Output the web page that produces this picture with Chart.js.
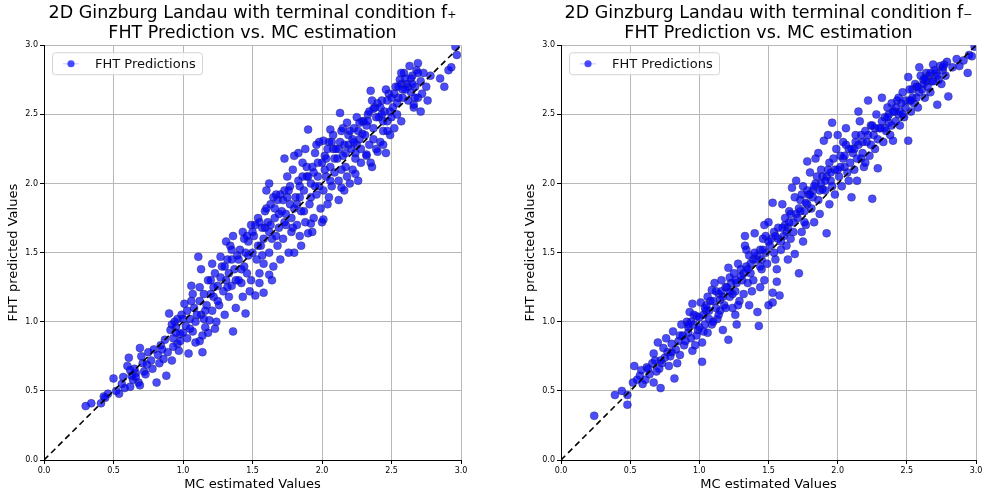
<!DOCTYPE html>
<html>
<head>
<meta charset="utf-8">
<script src="https://cdn.jsdelivr.net/npm/chart.js@4.4.1/dist/chart.umd.min.js"></script>
<style>
  html, body { margin: 0; padding: 0; background: #fff; }
  body { width: 985px; height: 495px; position: relative; overflow: hidden; }
  .panel { position: absolute; top: 0; height: 495px; }
</style>
</head>
<body>
<div class="panel" style="left:0;width:470px"><canvas id="plusChart"></canvas></div>
<div class="panel" style="left:517px;width:468px"><canvas id="minusChart"></canvas></div>
<script>
// ticks shared by both axes
const tickValues = [0.0, 0.5, 1.0, 1.5, 2.0, 2.5, 3.0];
const diagonal = [0, 3];

// terminal condition f+ : MC estimate (x) vs FHT prediction (y)
const mcPlus = [
  0.30,0.34,0.41,0.43,0.46,0.44,
  0.50,0.54,0.52,0.56,0.58,0.57,
  0.61,0.60,0.62,0.64,0.66,0.68,0.69,0.65,0.63,
  0.69,0.72,0.74,0.75,0.77,0.78,0.71,0.79,
  0.81,0.82,0.84,0.86,0.88,0.87,0.83,0.89,
  0.92,0.90,0.91,0.93,0.95,0.96,0.98,0.94,0.99,0.97,0.92,0.96,0.98,0.93,
  1.01,1.04,1.06,1.02,1.03,1.05,1.07,1.08,1.09,1.06,1.00,1.03,1.05,1.07,1.09,
  1.11,1.14,1.12,1.13,1.15,1.16,1.17,1.18,1.19,1.12,1.14,1.12,1.16,1.18,1.13,
  1.27,1.21,1.22,1.23,1.24,1.25,1.26,1.28,1.29,1.20,1.23,1.22,1.25,1.27,1.21,
  1.36,1.31,1.32,1.33,1.34,1.35,1.37,1.38,1.39,1.30,1.36,1.33,1.32,1.35,1.38,1.31,
  1.45,1.41,1.42,1.43,1.44,1.46,1.47,1.48,1.49,1.40,1.45,1.43,1.42,1.44,1.47,1.49,
  1.52,1.51,1.53,1.54,1.55,1.56,1.57,1.58,1.59,1.50,1.55,1.58,1.58,1.52,1.54,1.57,1.59,
  1.61,1.62,1.63,1.64,1.65,1.66,1.67,1.68,1.69,1.60,1.64,1.66,1.62,1.62,1.62,1.65,1.67,1.69,
  1.71,1.72,1.73,1.74,1.75,1.76,1.77,1.78,1.79,1.70,1.75,1.78,1.73,1.72,1.74,1.77,1.79,
  1.81,1.82,1.83,1.84,1.85,1.86,1.87,1.88,1.89,1.80,1.85,1.88,1.80,1.83,1.82,1.84,1.87,1.89,
  1.90,1.91,1.92,1.93,1.94,1.95,1.96,1.97,1.98,1.99,1.93,1.97,1.90,1.92,1.92,1.94,1.96,1.98,
  2.01,2.02,2.03,2.04,2.05,2.06,2.07,2.08,2.09,2.00,2.05,2.08,2.01,2.01,2.06,2.02,2.04,2.06,2.09,
  2.11,2.12,2.13,2.14,2.15,2.16,2.17,2.18,2.19,2.12,2.16,2.13,2.14,2.18,2.12,2.14,2.17,2.19,
  2.21,2.22,2.23,2.24,2.25,2.26,2.27,2.28,2.29,2.20,2.25,2.24,2.27,2.22,2.24,2.26,2.29,
  2.31,2.32,2.33,2.34,2.35,2.36,2.37,2.38,2.39,2.30,2.35,2.32,2.37,2.32,2.34,2.37,2.39,
  2.41,2.42,2.43,2.44,2.45,2.46,2.47,2.48,2.49,2.40,2.40,2.44,2.47,2.47,2.42,2.44,2.46,2.49,
  2.51,2.52,2.53,2.54,2.55,2.56,2.57,2.58,2.59,2.50,2.57,2.52,2.54,2.57,2.58,
  2.61,2.62,2.63,2.64,2.65,2.66,2.67,2.68,2.69,2.60,2.66,2.69,2.62,2.64,2.67,2.69,
  2.71,2.72,2.73,2.75,2.76,2.78,2.71,
  2.88,2.91,2.97,2.96,2.85,2.93,
  0.62,0.66,0.70,0.73,0.85,0.95,1.00,1.10,1.15,1.20,1.30,1.35,1.40,1.46,1.50,1.55,1.60,1.63,1.68,1.70,1.73,
  1.76,1.80,1.84,1.86,1.90,1.95,2.00,2.03,2.07,2.10,2.15,2.20,2.23,2.28,2.33,2.36,2.43,2.50,2.55,2.60,2.65
];
const fhtPlus = [
  0.39,0.41,0.41,0.46,0.48,0.45,
  0.59,0.48,0.50,0.55,0.52,0.60,
  0.74,0.68,0.53,0.58,0.63,0.56,0.54,0.66,0.61,
  0.81,0.64,0.69,0.78,0.72,0.66,0.70,0.80,
  0.56,0.76,0.83,0.73,0.61,0.87,0.70,0.78,
  0.72,1.06,0.94,0.88,0.96,0.84,0.91,1.00,1.05,0.79,0.98,1.02,0.86,0.82,
  1.13,0.77,1.26,0.97,0.88,1.02,0.93,1.10,0.85,1.15,0.92,1.08,0.95,1.20,1.00,
  1.47,0.78,0.86,1.05,1.20,0.96,1.12,1.30,1.01,1.25,0.90,1.15,1.08,0.92,1.38,
  1.47,1.08,1.18,1.35,1.00,1.26,1.12,1.40,1.22,1.30,0.95,1.25,1.15,1.32,1.42,
  0.93,1.30,1.45,1.18,1.55,1.26,1.38,1.10,1.48,1.05,1.62,1.35,1.25,1.45,1.30,1.58,
  1.06,1.52,1.28,1.65,1.40,1.35,1.58,1.22,1.70,1.45,1.50,1.18,1.38,1.60,1.48,1.30,
  1.19,1.62,1.45,1.75,1.35,1.55,1.68,1.42,1.80,1.50,1.28,1.60,1.21,1.70,1.55,1.48,1.68,
  1.72,1.50,1.85,1.60,1.40,1.75,1.92,1.55,1.68,1.95,1.30,1.82,1.34,2.00,1.65,1.90,1.62,1.78,
  1.80,1.60,1.95,1.70,2.05,1.50,1.85,1.65,2.10,1.45,1.90,1.75,2.18,1.88,1.78,1.98,1.68,
  1.90,1.70,2.02,1.62,1.80,2.15,1.95,1.72,2.05,2.20,1.55,2.25,1.50,2.22,1.85,1.98,1.80,2.12,
  2.39,1.85,2.00,2.12,1.75,2.22,1.92,2.05,2.30,1.82,1.65,2.15,1.64,1.71,1.90,2.08,2.28,1.98,
  1.95,2.20,2.05,1.85,2.30,2.12,1.98,2.35,2.08,1.72,1.90,2.25,1.74,2.31,2.39,2.10,2.25,2.02,2.18,
  2.18,2.02,2.30,2.10,2.40,1.95,2.22,2.05,2.35,1.88,2.28,2.51,1.97,2.44,2.25,2.38,2.12,2.28,
  2.25,2.10,2.40,2.18,2.48,2.02,2.32,2.15,2.45,2.00,2.28,2.07,2.44,2.32,2.22,2.38,2.36,
  2.35,2.20,2.50,2.28,2.67,2.12,2.40,2.55,2.25,2.45,2.15,2.21,2.54,2.42,2.52,2.32,2.48,
  2.48,2.30,2.60,2.38,2.52,2.22,2.45,2.65,2.35,2.58,2.23,2.28,2.38,2.60,2.55,2.45,2.68,2.52,
  2.55,2.40,2.70,2.50,2.62,2.75,2.45,2.68,2.80,2.48,2.80,2.65,2.58,2.72,2.62,
  2.72,2.60,2.85,2.66,2.78,2.55,2.70,2.82,2.62,2.76,2.57,2.87,2.70,2.76,2.62,2.80,
  2.74,2.65,2.80,2.70,2.60,2.78,2.52,
  2.70,2.82,2.93,2.99,2.76,2.84,
  0.65,0.60,0.75,0.62,0.80,0.92,1.02,1.05,1.02,1.20,1.40,1.52,1.30,1.62,1.65,1.72,1.82,1.70,1.88,1.92,1.72,
  1.95,1.82,1.90,2.05,2.05,1.98,2.15,2.18,2.30,2.25,2.20,2.38,2.30,2.25,2.45,2.60,2.50,2.62,2.70,2.68,2.72
];

// terminal condition f- : MC estimate (x) vs FHT prediction (y)
const mcMinus = [
  0.24,0.39,0.48,0.48,0.44,
  0.53,0.52,0.57,0.55,0.59,0.58,
  0.62,0.67,0.67,0.64,0.66,0.69,0.61,0.68,
  0.70,0.74,0.72,0.75,0.73,0.77,0.78,0.76,0.79,0.71,
  0.81,0.82,0.83,0.85,0.86,0.88,0.84,0.87,0.89,0.80,
  0.95,0.93,0.91,0.97,0.92,0.94,0.96,0.98,0.99,0.90,0.95,0.92,0.96,0.98,0.94,
  1.01,1.02,1.02,1.09,1.04,1.05,1.06,1.07,1.08,1.03,1.00,1.06,1.03,1.05,1.07,1.09,
  1.11,1.17,1.12,1.13,1.14,1.15,1.16,1.18,1.19,1.10,1.15,1.12,1.14,1.17,1.19,
  1.21,1.21,1.27,1.22,1.23,1.24,1.25,1.26,1.28,1.29,1.20,1.26,1.22,1.24,1.27,1.28,
  1.33,1.33,1.31,1.32,1.34,1.35,1.36,1.37,1.38,1.39,1.30,1.36,1.32,1.34,1.37,1.39,
  1.40,1.43,1.42,1.41,1.44,1.45,1.46,1.47,1.48,1.49,1.44,1.47,1.42,1.44,1.46,1.48,
  1.53,1.50,1.58,1.53,1.56,1.53,1.51,1.54,1.55,1.57,1.59,1.50,1.56,1.52,1.54,1.57,1.59,
  1.67,1.69,1.61,1.62,1.63,1.64,1.65,1.66,1.68,1.60,1.64,1.69,1.62,1.63,1.66,1.68,
  1.72,1.78,1.71,1.73,1.74,1.75,1.76,1.77,1.79,1.70,1.75,1.78,1.72,1.74,1.76,1.78,
  1.84,1.81,1.82,1.83,1.85,1.86,1.87,1.88,1.89,1.80,1.86,1.82,1.84,1.87,1.89,
  1.92,1.96,1.90,1.91,1.93,1.94,1.95,1.97,1.98,1.99,1.93,1.92,1.94,1.96,1.98,
  2.10,2.01,2.02,2.03,2.04,2.05,2.06,2.07,2.08,2.09,2.00,2.02,2.04,2.06,2.08,
  2.11,2.12,2.13,2.14,2.15,2.16,2.17,2.18,2.19,2.15,2.12,2.14,2.17,2.18,
  2.22,2.25,2.29,2.21,2.23,2.24,2.26,2.27,2.28,2.20,2.22,2.24,2.27,2.29,
  2.32,2.31,2.33,2.34,2.35,2.36,2.37,2.38,2.39,2.40,2.32,2.34,2.37,2.39,
  2.47,2.41,2.42,2.43,2.44,2.45,2.46,2.48,2.49,2.42,2.44,2.47,2.49,
  2.51,2.51,2.59,2.52,2.53,2.54,2.55,2.56,2.57,2.58,2.52,2.54,2.57,2.59,
  2.69,2.61,2.62,2.63,2.64,2.65,2.66,2.67,2.68,2.60,2.62,2.64,2.67,2.69,
  2.72,2.71,2.73,2.74,2.75,2.76,2.78,2.79,2.72,2.76,
  2.80,2.91,2.94,2.99,2.83,2.86,2.88,2.95,2.97,
  0.63,0.72,0.80,0.86,0.92,1.00,1.04,1.10,1.16,1.22,1.26,1.30,1.35,1.40,1.45,1.50,1.55,1.60,1.65,1.70,1.73,
  1.77,1.80,1.83,1.88,1.91,1.95,2.00,2.05,2.10,2.13,2.20,2.25,2.30,2.36,2.40,2.45,2.53,2.58,2.63,2.70,2.77
];
const fhtMinus = [
  0.32,0.47,0.47,0.40,0.50,
  0.68,0.56,0.61,0.58,0.55,0.65,
  0.67,0.77,0.56,0.62,0.70,0.64,0.58,0.72,
  0.85,0.81,0.52,0.74,0.70,0.78,0.68,0.88,0.75,0.66,
  0.93,0.59,0.80,0.86,0.76,0.90,0.70,0.98,0.83,0.78,
  1.13,1.07,1.00,0.83,0.92,0.88,0.98,1.04,0.94,0.86,0.79,0.96,1.05,0.90,1.00,
  1.14,0.71,0.85,1.23,0.98,1.08,0.92,1.02,1.15,1.05,0.96,1.18,0.93,1.12,1.08,0.98,
  1.28,0.94,1.10,1.02,1.20,1.08,1.30,1.12,1.25,1.00,1.16,1.22,1.05,1.18,1.10,
  1.39,0.87,0.98,1.18,1.28,1.10,1.35,1.22,1.42,1.15,1.25,1.05,1.32,1.20,1.28,1.12,
  1.62,1.55,1.30,1.20,1.40,1.28,1.48,1.35,1.22,1.45,1.38,1.12,1.35,1.52,1.42,1.30,
  1.64,0.97,1.07,1.45,1.52,1.38,1.60,1.30,1.50,1.42,1.25,1.70,1.48,1.40,1.52,1.62,
  1.14,1.12,1.19,1.21,1.29,1.86,1.55,1.65,1.45,1.60,1.52,1.72,1.38,1.60,1.50,1.68,1.58,
  1.97,1.49,1.62,1.75,1.55,1.68,1.80,1.60,1.72,1.85,1.45,1.90,1.70,1.65,1.78,1.65,
  1.35,2.16,1.75,1.88,1.65,1.98,1.80,1.70,1.92,2.02,1.58,1.85,1.82,1.92,1.72,1.95,
  2.18,1.82,1.95,1.72,2.05,1.88,1.78,2.10,1.96,2.08,2.22,1.90,2.00,1.95,2.05,
  1.64,2.44,2.31,1.95,2.10,1.85,2.02,2.18,1.92,2.25,2.35,2.05,2.15,1.98,2.10,
  1.90,2.05,2.20,1.98,2.30,2.12,2.40,2.08,2.25,2.15,2.35,2.12,2.18,2.28,2.02,
  2.22,2.10,2.35,2.02,2.28,2.45,2.18,2.30,2.12,2.52,2.25,2.18,2.35,2.22,
  2.60,1.89,2.11,2.30,2.20,2.42,2.35,2.25,2.50,2.15,2.35,2.28,2.40,2.32,
  2.62,2.40,2.30,2.48,2.38,2.55,2.44,2.35,2.58,2.31,2.45,2.40,2.50,2.42,
  2.66,2.52,2.45,2.60,2.50,2.42,2.58,2.48,2.55,2.55,2.62,2.50,2.60,
  2.31,2.77,2.84,2.60,2.52,2.68,2.58,2.72,2.62,2.55,2.68,2.62,2.70,2.66,
  2.86,2.68,2.75,2.62,2.80,2.70,2.78,2.66,2.74,2.78,2.72,2.74,2.80,2.74,
  2.57,2.80,2.75,2.85,2.72,2.82,2.78,2.88,2.78,2.84,
  2.63,2.89,2.80,2.99,2.84,2.90,2.85,2.93,2.92,
  0.66,0.72,0.84,0.90,0.98,1.03,1.10,1.15,1.22,1.22,1.30,1.33,1.38,1.50,1.45,1.58,1.62,1.68,1.72,1.78,1.80,
  1.86,1.92,1.98,2.00,2.02,2.08,2.10,2.20,2.25,2.30,2.38,2.42,2.40,2.48,2.52,2.52,2.60,2.70,2.76,2.82,2.86
];

Chart.defaults.font.family = "'DejaVu Sans', sans-serif";
Chart.defaults.color = "#000";

const pointFill = "rgba(0,0,255,0.7)";

// legend box drawn inside the plot area, top left
const insideLegend = {
  id: "insideLegend",
  afterDraw(chart) {
    const ctx = chart.ctx, a = chart.chartArea;
    const x = a.left + 8, y = a.top + 7, w = 150, h = 22;
    ctx.save();
    ctx.fillStyle = "rgba(255,255,255,0.85)";
    ctx.strokeStyle = "#d4d4d4";
    ctx.lineWidth = 1;
    ctx.beginPath();
    ctx.roundRect(x + 0.5, y + 0.5, w, h, 3);
    ctx.fill();
    ctx.stroke();
    ctx.strokeStyle = "rgba(110,110,255,0.25)";
    ctx.lineWidth = 1.5;
    ctx.beginPath();
    ctx.moveTo(x + 11, y + h / 2 + 0.5);
    ctx.lineTo(x + 27, y + h / 2 + 0.5);
    ctx.stroke();
    ctx.fillStyle = pointFill;
    ctx.beginPath();
    ctx.arc(x + 19, y + h / 2 + 0.5, 3.6, 0, 2 * Math.PI);
    ctx.fill();
    ctx.fillStyle = "#111";
    ctx.font = "13px 'DejaVu Sans'";
    ctx.textBaseline = "middle";
    ctx.fillText("FHT Predictions", x + 43, y + h / 2 + 1);
    ctx.restore();
  }
};

function axisOptions(label, isX) {
  return {
    type: "linear",
    min: 0,
    max: 3,
    afterFit: s => { if (isX) s.height = 35; else s.width = 44; },
    afterBuildTicks: s => { s.ticks = tickValues.map(v => ({ value: v })); },
    ticks: {
      callback: v => v.toFixed(1),
      color: "#000",
      font: { size: 8 },
      padding: 2,
      maxRotation: 0
    },
    grid: { color: "#b8b8b8", lineWidth: 1, tickColor: "#000", tickLength: 4 },
    border: { color: "#000", width: 1 },
    title: {
      display: true,
      text: label,
      color: "#000",
      font: { size: 13 },
      padding: isX ? { top: 0, bottom: 3 } : { top: 6, bottom: 0 }
    }
  };
}

function makeChart(id, mc, fht, titleLines) {
  if (mc.length !== fht.length) console.error(id + " length mismatch", mc.length, fht.length);
  const n = Math.min(mc.length, fht.length);
  const points = [];
  for (let i = 0; i < n; i++) points.push({ x: mc[i], y: fht[i] });

  return new Chart(document.getElementById(id), {
    type: "scatter",
    data: {
      datasets: [
        {
          type: "line",
          label: "y = x",
          data: diagonal.map(v => ({ x: v, y: v })),
          borderColor: "#000",
          borderWidth: 1.6,
          borderDash: [6, 4],
          pointRadius: 0,
          fill: false
        },
        {
          label: "FHT Predictions",
          data: points,
          backgroundColor: pointFill,
          borderColor: "rgba(40,40,90,0.5)",
          borderWidth: 0.8,
          pointRadius: 4
        }
      ]
    },
    options: {
      responsive: true,
      maintainAspectRatio: false,
      animation: false,
      layout: { padding: { left: 0, right: 9, top: 0, bottom: 0 } },
      plugins: {
        legend: { display: false },
        tooltip: { enabled: false },
        title: {
          display: true,
          text: titleLines,
          fullSize: false,
          color: "#000",
          font: { size: 17.5, weight: "normal", lineHeight: 1.15 },
          padding: { top: 3, bottom: 2 }
        }
      },
      scales: {
        x: axisOptions("MC estimated Values", true),
        y: axisOptions("FHT predicted Values", false)
      }
    },
    plugins: [insideLegend]
  });
}

makeChart("plusChart", mcPlus, fhtPlus,
  ["2D Ginzburg Landau with terminal condition f\u208A", "FHT Prediction vs. MC estimation"]);
makeChart("minusChart", mcMinus, fhtMinus,
  ["2D Ginzburg Landau with terminal condition f\u208B", "FHT Prediction vs. MC estimation"]);
</script>
</body>
</html>
